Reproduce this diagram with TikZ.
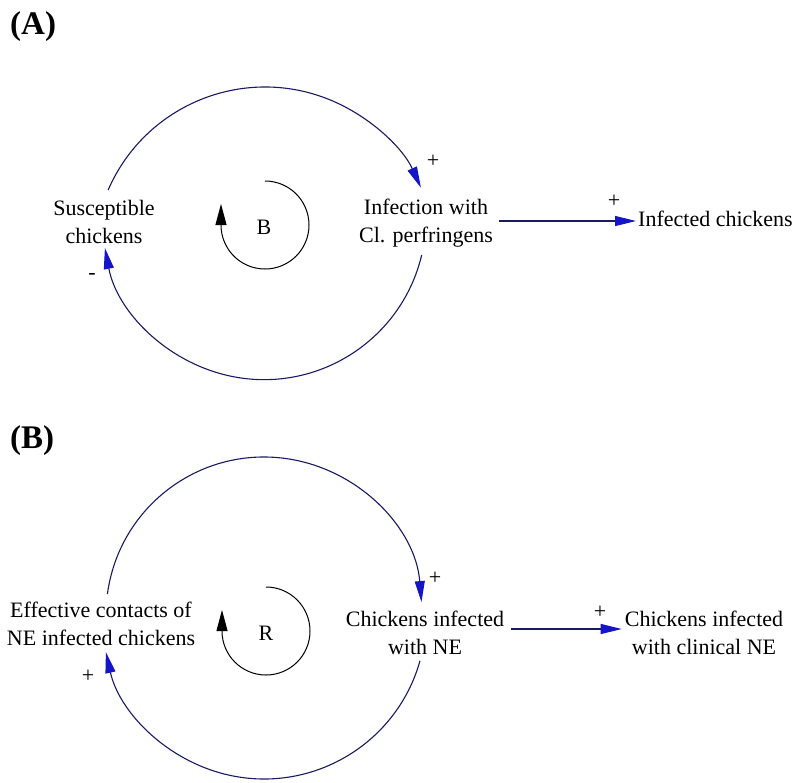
\documentclass[tikz,border=0pt]{standalone}
\usepackage{fontspec}
\setmainfont{Liberation Serif}
\usetikzlibrary{arrows.meta}
\definecolor{linkcol}{RGB}{25,25,100}
\definecolor{tipcol}{RGB}{20,20,200}
\begin{document}
\begin{tikzpicture}[x=1pt,y=-1pt,
  lbl/.style={font=\fontsize{22}{28}\selectfont, inner sep=0pt, align=center},
  pol/.style={font=\fontsize{22}{28}\selectfont, inner sep=0pt},
  ttl/.style={font=\fontsize{33}{36}\selectfont\bfseries, inner sep=0pt, anchor=west},
  link/.style={draw=linkcol, line width=1.1pt, -{Triangle[length=21pt,width=10pt,fill=tipcol,color=tipcol]}},
  loopsym/.style={draw=black, line width=1pt, -{Triangle[length=21pt,width=11pt]}}
]
\useasboundingbox (0,0) rectangle (797,782);
\fill[white] (0,0) rectangle (797,782);

% ---------- (A) ----------
\node[ttl] (ta) at (10,27) {(A)};
\node[lbl] (susc) at (104,222) {Susceptible\\chickens};
\node[lbl] (infw) at (426,223) {Infection with\\Cl. perfringens};
\node[pol, anchor=base west] (infc) at (638,226) {Infected chickens};

\coordinate (a1s) at (108.1,190.1);
\coordinate (a2s) at (421.7,254.9);
\draw[link] (a1s) arc[start angle=-156.6, end angle=-24.3, radius=171];
\draw[link] (a2s) arc[start angle=13.3, end angle=169.2, radius=162];
\draw[link] ([shift={(6,-2)}]infw.east) -- ([shift={(-2,-2)}]infw.east -| infc.west);

\coordinate (la) at (265,181);
\draw[loopsym] (la) arc[start angle=-90, end angle=180, radius=44] -- ++(0,-21);
\node[pol] (bl) at (264,227) {B};

\node[pol] (pa1) at (433,161) {+};
\node[pol] (pa2) at (614,201) {+};
\node[pol] (ma) at (92,276) {-};

% ---------- (B) ----------
\node[ttl] (tb) at (10,441) {(B)};
\node[lbl] (eff) at (101,624) {Effective contacts of\\NE infected chickens};
\node[lbl] (cne) at (425,633) {Chickens infected\\with NE};
\node[lbl] (cln) at (704,633) {Chickens infected\\with clinical NE};

\coordinate (b1s) at (107.4,594.1);
\coordinate (b2s) at (420,660.8);
\draw[link] (b1s) arc[start angle=-172.4, end angle=-4.7, radius=158];
\draw[link] (b2s) arc[start angle=15.7, end angle=167.5, radius=162];
\draw[link] ([shift={(7,-4)}]cne.east) -- ([shift={(-3,-4)}]cne.east -| cln.west);

\coordinate (lb) at (266,587);
\draw[loopsym] (lb) arc[start angle=-90, end angle=180, radius=44] -- ++(0,-21);
\node[pol] (rl) at (266,633) {R};

\node[pol] (pb1) at (435,578) {+};
\node[pol] (pb2) at (600,612) {+};
\node[pol] (pb3) at (88,676) {+};
\end{tikzpicture}
\end{document}
